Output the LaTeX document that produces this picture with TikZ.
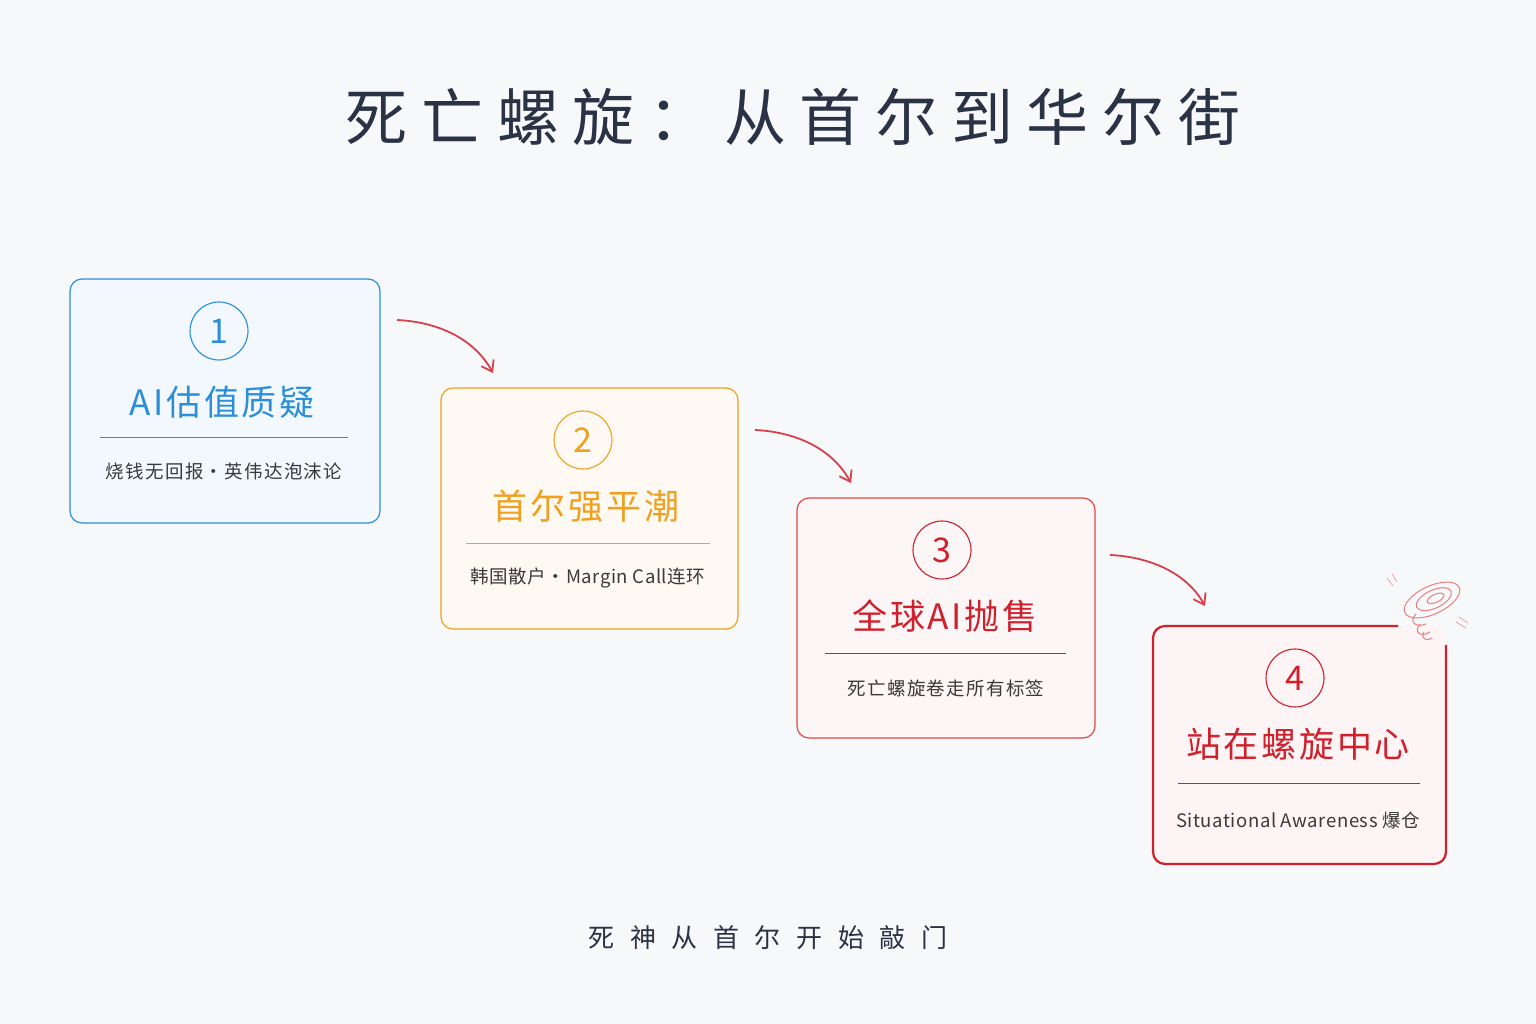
\documentclass[tikz,border=0pt]{standalone}
\usepackage{fontspec}
\setmainfont{Noto Sans CJK SC}
\newfontfamily\cjk{Noto Sans CJK SC}
\newfontfamily\cjkwide[LetterSpace=22]{Noto Sans CJK SC}
\newfontfamily\cjkfoot[LetterSpace=60]{Noto Sans CJK SC}
\newfontfamily\cjkmid[LetterSpace=8]{Noto Sans CJK SC}
\newfontfamily\cjksub[LetterSpace=7]{Noto Sans CJK SC}
\newfontfamily\cjksubn[LetterSpace=3]{Noto Sans CJK SC}
\usetikzlibrary{arrows.meta}
\definecolor{bg}{HTML}{F7F8FA}
\definecolor{cb}{HTML}{2A8FD8}
\definecolor{co}{HTML}{F0A020}
\definecolor{cr}{HTML}{E04848}
\definecolor{cd}{HTML}{D0202C}
\definecolor{ink}{HTML}{2A3245}
\definecolor{sub}{HTML}{3A3A3A}
\begin{document}
\begin{tikzpicture}[x=1pt,y=-1pt,
  box/.style={draw=#1,rounded corners=12pt,line width=1.2pt},
  num/.style={circle,draw=#1,line width=1.1pt,minimum size=58pt,inner sep=0pt,text=#1,font=\cjk\fontsize{34}{34}\selectfont},
  ttl/.style={text=#1,font=\cjkmid\fontsize{35}{35}\selectfont},
  subt/.style={text=sub,font=\cjksub\fontsize{18.5}{18.5}\selectfont},
  arr/.style={-{Straight Barb[length=10pt,width=14pt]},line width=1.8pt,draw=cd!85},
  swl/.style={draw=cr!70,line width=1pt}]
\fill[bg] (0,0) rectangle (1536,1024);
\useasboundingbox (0,0) rectangle (1536,1024);
\node[text=ink,font=\cjkwide\fontsize{62}{62}\selectfont] (title) at (793,117) {死亡螺旋：从首尔到华尔街};
% box 1
\draw[box=cb,fill=cb!6] (70,279) rectangle (380,523);
\node[num=cb] (n1) at (219,331) {1};
\node[ttl=cb] (t1) at (222,402) {AI估值质疑};
\draw[cb,line width=1pt] (100,437) -- (348,437);
\node[subt] (s1) at (224,471) {烧钱无回报・英伟达泡沫论};
% box 2
\draw[box=co,fill=co!6] (441,388) rectangle (738,629);
\node[num=co] (n2) at (583,440) {2};
\node[ttl=co] (t2) at (586,506) {首尔强平潮};
\draw[co,line width=1pt] (466,543) -- (710,543);
\node[subt,font=\cjksubn\fontsize{18.5}{18.5}\selectfont] (s2) at (588,578) {韩国散户・Margin Call连环};
% box 3
\draw[box=cr,fill=cr!5] (797,498) rectangle (1095,738);
\node[num=cd] (n3) at (942,550) {3};
\node[ttl=cd] (t3) at (945,616) {全球AI抛售};
\draw[cd,line width=1pt] (825,653) -- (1066,653);
\node[subt] (s3) at (946,688) {死亡螺旋卷走所有标签};
% box 4
\fill[cd!5,rounded corners=12pt] (1153,626) rectangle (1446,864);
\draw[cd,line width=2.2pt,rounded corners=12pt] (1398,626) -- (1153,626) -- (1153,864) -- (1446,864) -- (1446,645);
\node[num=cd] (n4) at (1295,678) {4};
\node[ttl=cd] (t4) at (1298,744) {站在螺旋中心};
\draw[cd,line width=1pt] (1178,783) -- (1420,783);
\node[subt,font=\cjksubn\fontsize{18.5}{18.5}\selectfont] (s4) at (1298,820) {Situational Awareness 爆仓};
% swirl
\begin{scope}[rotate around={25:(1432,600)}]
\draw[swl] (1432,600) ellipse (30 and 14);
\draw[swl] (1434,600) ellipse (19 and 9);
\draw[swl] (1436,600) ellipse (9 and 4);
\end{scope}
\draw[swl] (1416,614) .. controls (1408,622) and (1416,628) .. (1426,624);
\draw[swl] (1420,624) .. controls (1413,632) and (1421,638) .. (1430,632);
\draw[swl] (1424,632) .. controls (1420,638) and (1426,642) .. (1432,638);
\draw[cr!50,line width=0.8pt] (1387,578) -- (1393,586) (1392,574) -- (1397,582);
\draw[cr!50,line width=0.8pt] (1456,622) -- (1466,628) (1459,617) -- (1468,623);
% arrows
\coordinate (a1s) at (397,320); \coordinate (a1e) at (493,373);
\coordinate (a2s) at (755,430); \coordinate (a2e) at (851,483);
\coordinate (a3s) at (1110,555); \coordinate (a3e) at (1205,606);
\draw[arr] (a1s) .. controls (440,322) and (475,340) .. (a1e);
\draw[arr] (a2s) .. controls (798,432) and (833,450) .. (a2e);
\draw[arr] (a3s) .. controls (1153,557) and (1188,575) .. (a3e);
\node[text=ink,font=\cjkfoot\fontsize{26}{26}\selectfont] (foot) at (768,938) {死神从首尔开始敲门};
\end{tikzpicture}
\end{document}
